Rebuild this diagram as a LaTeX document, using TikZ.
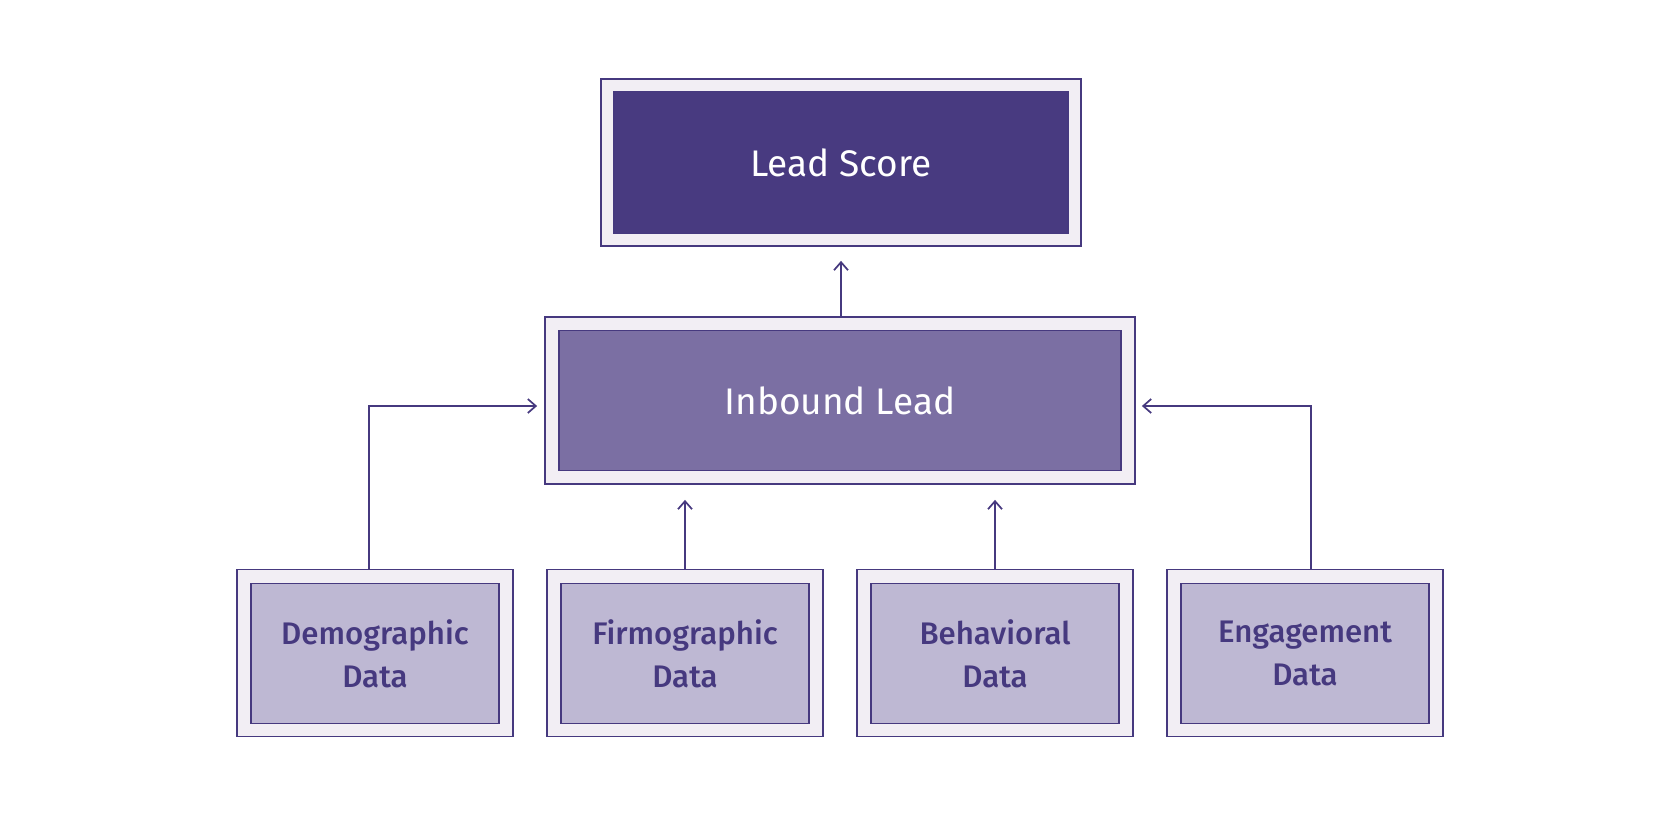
\documentclass[tikz,border=0pt]{standalone}
\usepackage{fontspec}
\setmainfont{Fira Sans}
\newfontfamily\med{Fira Sans}[UprightFont=* Medium]
\usetikzlibrary{arrows.meta}
\definecolor{stroke}{RGB}{70,57,127}
\definecolor{outerfill}{RGB}{242,238,244}
\definecolor{topfill}{RGB}{72,58,128}
\definecolor{midfill}{RGB}{123,111,163}
\definecolor{lowfill}{RGB}{190,184,211}
\begin{document}
\begin{tikzpicture}[x=0.5pt,y=-0.5pt,
  frame/.style={draw=stroke,line width=0.9pt,fill=outerfill,minimum height=83.5pt,inner sep=0pt},
  core/.style={draw=stroke,line width=0.9pt,inner sep=0pt,minimum height=70pt,align=center},
  big/.style={font=\fontsize{18.5}{22}\selectfont,text=white},
  small/.style={font=\med\fontsize{15.6}{21.3}\selectfont,text=stroke},
  arr/.style={draw=stroke,line width=0.85pt,-{Straight Barb[length=4pt,width=7pt,line width=0.85pt]}}]
\fill[white] (0,0) rectangle (1680,814);
\useasboundingbox (0,0) rectangle (1680,814);
% Lead score
\node[frame,minimum width=240pt] (lsO) at (841,162.5) {};
\node[core,big,fill=topfill,minimum width=227pt,minimum height=71pt] (ls) at (841,162.5) {Lead Score};
% Inbound lead
\node[frame,minimum width=295pt] (inO) at (840,400.5) {};
\node[core,big,fill=midfill,minimum width=281pt] (in) at (840,400.5) {Inbound Lead};
% bottom boxes
\foreach \n/\x/\t in {demo/375/{Demographic\\Data},firm/685/{Firmographic\\Data},beha/995/{Behavioral\\Data},enga/1305/{Engagement\\Data}}{
  \node[frame,minimum width=138pt] (\n O) at (\x,653) {};
  \node[core,small,fill=lowfill,minimum width=124pt] (\n) at (\x,653.5) {\t};
}
% connectors
\draw[arr] (lsO.south |- inO.north) -- ([yshift=-7pt]lsO.south);
\draw[arr] (firmO.north) -- ([yshift=-7.5pt]inO.south -| firmO.north);
\draw[arr] (behaO.north) -- ([yshift=-7.5pt]inO.south -| behaO.north);
\draw[arr] ([xshift=-3pt]demoO.north) |- ([xshift=-3.5pt,yshift=-2.75pt]inO.west);
\draw[arr] ([xshift=3pt]engaO.north) |- ([xshift=3pt,yshift=-2.75pt]inO.east);
\end{tikzpicture}
\end{document}
